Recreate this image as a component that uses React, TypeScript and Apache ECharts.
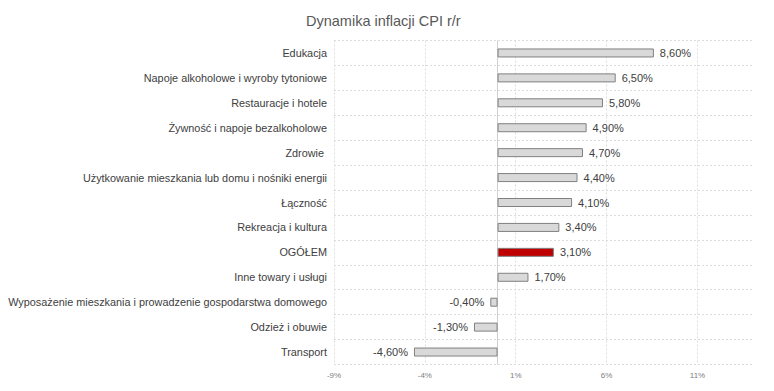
import React, { useEffect, useRef } from "react";
import * as echarts from "echarts";

const categories = [
  "Edukacja",
  "Napoje alkoholowe i wyroby tytoniowe",
  "Restauracje i hotele",
  "Żywność i napoje bezalkoholowe",
  "Zdrowie ",
  "Użytkowanie mieszkania lub domu i nośniki energii",
  "Łączność",
  "Rekreacja i kultura",
  "OGÓŁEM",
  "Inne towary i usługi",
  "Wyposażenie mieszkania i prowadzenie gospodarstwa domowego",
  "Odzież i obuwie",
  "Transport",
];
const values = [8.6, 6.5, 5.8, 4.9, 4.7, 4.4, 4.1, 3.4, 3.1, 1.7, -0.4, -1.3, -4.6];
const highlightCategory = "OGÓŁEM";
const axisMin = -9;
const axisMax = 14;
const axisInterval = 5;
const gridTicks = [-9, -4, 1, 6, 11];

const fmt = (v: number) => v.toFixed(2).replace(".", ",") + "%";

export default function App() {
  const ref = useRef<HTMLDivElement>(null);
  useEffect(() => {
    if (!ref.current) return;
    const chart = echarts.init(ref.current, null, { renderer: "svg" });
    const font = "'Liberation Sans', Arial, sans-serif";
    chart.setOption({
      animation: false,
      backgroundColor: "#ffffff",
      title: {
        text: "Dynamika inflacji CPI r/r",
        left: 301,
        top: 8,
        textStyle: { fontFamily: font, fontSize: 14.5, fontWeight: "normal", color: "#595959" },
      },
      grid: { left: 334, right: 22, top: 40.5, bottom: 26.5, containLabel: false },
      xAxis: {
        type: "value",
        min: axisMin,
        max: axisMax,
        interval: axisInterval,
        axisLine: { show: false },
        axisTick: { show: false },
        axisLabel: {
          formatter: (v: number) => `${v}%`,
          fontFamily: font,
          fontSize: 8,
          color: "#808080",
          margin: 7,
          showMaxLabel: false,
        },
        splitLine: { show: false },
      },
      yAxis: {
        type: "category",
        data: categories,
        inverse: true,
        axisLine: { show: false },
        axisTick: { show: false },
        axisLabel: { fontFamily: font, fontSize: 10.85, color: "#404040", margin: 7 },
        splitLine: { show: true, lineStyle: { color: "#dcdcdc", type: [2, 2], width: 1 } },
      },
      series: [
        {
          type: "bar",
          barWidth: 9,
          z: 3,
          data: values.map((v, i) => ({
            value: v,
            itemStyle: {
              color: categories[i] === highlightCategory ? "#c00000" : "#d9d9d9",
              borderColor: "#808080",
              borderWidth: 1,
            },
            label: {
              show: true,
              position: v >= 0 ? "right" : "left",
              distance: 6,
              formatter: () => fmt(v),
              fontFamily: font,
              fontSize: 11,
              color: "#404040",
            },
          })),
          markLine: {
            silent: true,
            symbol: "none",
            z: 1,
            label: { show: false },
            data: [
              ...gridTicks.map((t) => ({
                xAxis: t,
                lineStyle: { color: "#dcdcdc", type: [2, 2], width: 1 },
              })),
              { xAxis: 0, lineStyle: { color: "#d0d0d0", type: "solid", width: 1 } },
            ],
          },
        },
      ],
    });
    return () => chart.dispose();
  }, []);
  return (
    <div
      ref={ref}
      style={{ position: "fixed", left: 0, top: 0, width: 774, height: 391 }}
    />
  );
}
